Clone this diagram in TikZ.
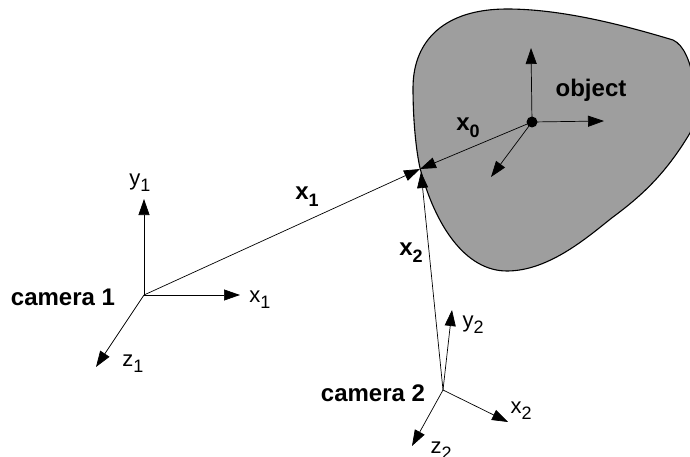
\documentclass[tikz,border=0pt]{standalone}
\usepackage{fontspec}
\setmainfont{Liberation Sans}
\usetikzlibrary{arrows.meta}
\newcommand{\lowidx}[1]{\raisebox{-0.28em}{\fontsize{18}{20}\selectfont #1}}
\tikzset{
  axis/.style={-{Triangle[length=16pt,width=11pt]},line width=0.7pt},
  lbl/.style={font=\fontsize{22}{24}\selectfont,inner sep=0pt},
  boldlbl/.style={font=\fontsize{24}{26}\selectfont\bfseries,inner sep=0pt}
}
\begin{document}
\begin{tikzpicture}[x=1pt,y=-1pt]
  \useasboundingbox (0,0) rectangle (690,457);
  % object outline
  \fill[white] (0,0) rectangle (690,457);
  \draw[fill=black!38,line width=1.1pt] (673,40)
    .. controls (620,24) and (560,9) .. (507,9)
    .. controls (445,9) and (413,40) .. (413,88)
    .. controls (413,120) and (416,150) .. (420,168)
    .. controls (435,225) and (465,271) .. (507,271)
    .. controls (550,271) and (590,235) .. (613,217)
    .. controls (640,197) and (665,175) .. (690,133)
    .. controls (700,110) and (695,50) .. (673,40);
  % origins and free ends
  \node[circle,fill=black,inner sep=0pt,minimum size=11pt] (obj) at (532,122) {};
  \coordinate (hit) at (420,169);
  \coordinate (hit2) at (421,172);
  \coordinate (cam1) at (144,295);
  \coordinate (cam2) at (443,390);
  \coordinate (objy) at (531,48);
  \coordinate (objx) at (604,121);
  \coordinate (objz) at (491,177);
  \coordinate (y1) at (144,199);
  \coordinate (x1) at (240,295);
  \coordinate (z1) at (96,367);
  \coordinate (y2) at (452,310);
  \coordinate (x2) at (508,422);
  \coordinate (z2) at (412,446);
  % object axes
  \draw[axis] (obj.center) -- (objy);
  \draw[axis] (obj.center) -- (objx);
  \draw[axis] (obj.center) -- (objz);
  % position vectors
  \draw[axis] (obj.center) -- (hit);
  \draw[axis] (cam1) -- (hit);
  \draw[axis] (cam2) -- (hit2);
  % camera axes
  \draw[axis] (cam1) -- (y1);
  \draw[axis] (cam1) -- (x1);
  \draw[axis] (cam1) -- (z1);
  \draw[axis] (cam2) -- (y2);
  \draw[axis] (cam2) -- (x2);
  \draw[axis] (cam2) -- (z2);
  % labels
  \node[boldlbl] (objlbl) at (591,90) {object};
  \node[boldlbl] (camlbl1) at (63,297) {camera 1};
  \node[boldlbl] (camlbl2) at (373,393) {camera 2};
  \node[boldlbl] (xlbl0) at (468,128) {x\lowidx{0}};
  \node[boldlbl] (xlbl1) at (307,197) {x\lowidx{1}};
  \node[boldlbl] (xlbl2) at (411,253) {x\lowidx{2}};
  \node[lbl] (ylbl1) at (140,183) {y\lowidx{1}};
  \node[lbl] (xlbl) at (260,300) {x\lowidx{1}};
  \node[lbl] (zlbl) at (133,364) {z\lowidx{1}};
  \node[lbl] (ylbl2) at (473,325) {y\lowidx{2}};
  \node[lbl] (xlbl3) at (521,411) {x\lowidx{2}};
  \node[lbl] (zlbl2) at (441,451) {z\lowidx{2}};
\end{tikzpicture}
\end{document}
